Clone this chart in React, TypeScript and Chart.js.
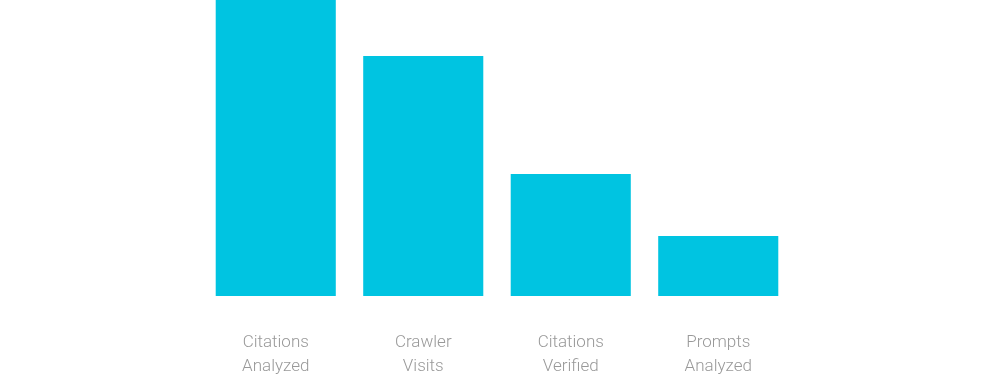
import React, { useEffect, useRef } from "react";
import { Chart, registerables } from "chart.js";

Chart.register(...registerables);

const categories: string[][] = [
  ["Citations", "Analyzed"],
  ["Crawler", "Visits"],
  ["Citations", "Verified"],
  ["Prompts", "Analyzed"],
];
const values: number[] = [296, 240, 122, 60];
const yMax = 296;

export default function App() {
  const ref = useRef<HTMLCanvasElement | null>(null);
  useEffect(() => {
    if (!ref.current) return;
    const chart = new Chart(ref.current, {
      type: "bar",
      data: {
        labels: categories,
        datasets: [
          {
            data: values,
            backgroundColor: "#00c4e1",
            borderWidth: 0,
            barPercentage: 1,
            categoryPercentage: 120 / 147.4,
          },
        ],
      },
      options: {
        responsive: false,
        animation: false,
        layout: { padding: { left: 202, right: 202, top: 0, bottom: 0 } },
        plugins: { legend: { display: false }, tooltip: { enabled: false } },
        scales: {
          x: {
            grid: { display: false },
            border: { display: false },
            afterFit: (scale: any) => {
              scale.height = 92;
            },
            ticks: {
              color: "#999999",
              padding: 27,
              maxRotation: 0,
              autoSkip: false,
              font: { family: "Roboto", size: 17, weight: 300, lineHeight: 24 / 17 },
            },
          },
          y: { display: false, min: 0, max: yMax },
        },
      },
    });
    return () => chart.destroy();
  }, []);
  return (
    <div style={{ position: "absolute", left: 0, top: 0, width: 994, height: 388, background: "#fff" }}>
      <canvas ref={ref} width={994} height={388} style={{ display: "block", width: 994, height: 388 }} />
    </div>
  );
}
